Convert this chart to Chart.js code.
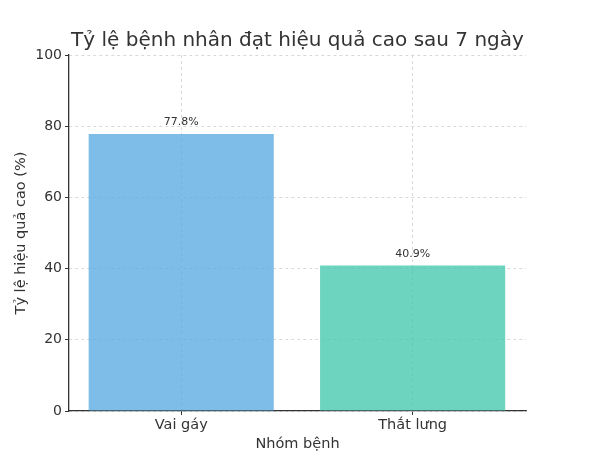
<!DOCTYPE html>
<html lang="vi">
<head>
  <meta charset="UTF-8">
  <title>Tỷ lệ bệnh nhân đạt hiệu quả cao</title>
  <script src="https://cdn.jsdelivr.net/npm/chart.js"></script>
  <style>
    body { margin: 0; background: #fff; }
  </style>
</head>
<body>
  <canvas id="chart" width="604" height="462"></canvas>
  <script>
    const title = "Tỷ lệ bệnh nhân đạt hiệu quả cao sau 7 ngày";
    const groups = ["Vai gáy", "Thắt lưng"];
    const rates = [77.8, 40.9];
    const yTicks = [0, 20, 40, 60, 80, 100];
    const barColors = ["rgba(93,173,226,0.8)", "rgba(72,201,176,0.8)"];

    const font = "'DejaVu Sans', sans-serif";

    // title centred over the plot area, plus the % value over each bar
    const extras = {
      id: "extras",
      afterDatasetsDraw(chart) {
        const ctx = chart.ctx;
        const area = chart.chartArea;
        ctx.save();
        ctx.fillStyle = "#333";
        ctx.textAlign = "center";

        ctx.font = "20px " + font;
        ctx.textBaseline = "middle";
        ctx.fillText(title, (area.left + area.right) / 2, 41);

        ctx.font = "11px " + font;
        ctx.textBaseline = "bottom";
        chart.getDatasetMeta(0).data.forEach((bar, i) => {
          ctx.fillText(rates[i].toFixed(1) + "%", bar.x, bar.y - 6);
        });
        ctx.restore();
      }
    };

    const gridOpts = {
      offset: false,
      color: "#cfcfcf",
      lineWidth: 0.8,
      tickColor: "#333",
      tickLength: 4,
      tickBorderDash: [],
      tickWidth: 1
    };

    new Chart(document.getElementById("chart"), {
      type: "bar",
      data: {
        datasets: [{
          data: rates.map((v, i) => ({ x: i, y: v })),
          backgroundColor: barColors,
          borderWidth: 0,
          barPercentage: 0.8,
          categoryPercentage: 1
        }]
      },
      options: {
        responsive: false,
        animation: false,
        layout: { padding: { left: 0, right: 78, top: 55, bottom: 0 } },
        plugins: {
          legend: { display: false },
          tooltip: { enabled: false }
        },
        scales: {
          x: {
            type: "linear",
            offset: false,
            min: -0.485,
            max: 1.49,
            afterBuildTicks(scale) { scale.ticks = groups.map((g, i) => ({ value: i })); },
            grid: gridOpts,
            border: { color: "#333", width: 1.3, dash: [3, 3] },
            ticks: {
              color: "#333",
              padding: 2,
              font: { family: font, size: 14.5 },
              callback: v => groups[v]
            },
            title: {
              display: true,
              text: "Nhóm bệnh",
              color: "#333",
              font: { family: font, size: 14.5 },
              padding: { top: 2, bottom: 9 }
            },
            afterFit(scale) { scale.height = 51; }
          },
          y: {
            min: 0,
            max: 100,
            afterBuildTicks(scale) { scale.ticks = yTicks.map(v => ({ value: v })); },
            grid: gridOpts,
            border: { color: "#333", width: 1.3, dash: [3, 3] },
            ticks: { color: "#333", padding: 3, font: { family: font, size: 14 } },
            title: {
              display: true,
              text: "Tỷ lệ hiệu quả cao (%)",
              color: "#333",
              font: { family: font, size: 14.5 },
              padding: { top: 13, bottom: 4 }
            },
            afterFit(scale) { scale.width = 69; }
          }
        }
      },
      plugins: [extras]
    });
  </script>
</body>
</html>
